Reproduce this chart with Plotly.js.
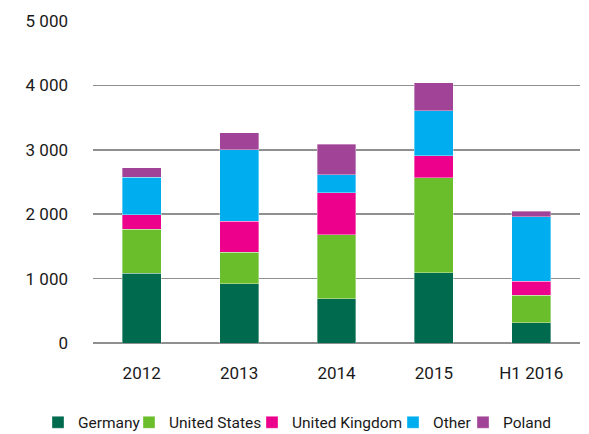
<!DOCTYPE html>
<html>
<head>
<meta charset="utf-8">
<script src="https://cdn.plot.ly/plotly-3.0.1.min.js"></script>
<style>html,body{margin:0;padding:0;background:#fff;}#chart{width:589px;height:434px;}</style>
</head>
<body>
<div id="chart"></div>
<script>
const categories = ["2012", "2013", "2014", "2015", "H1 2016"];
const germany = [1085, 919, 687, 1090, 315];
const unitedStates = [682, 487, 993, 1473, 425];
const unitedKingdom = [228, 481, 656, 347, 217];
const other = [579, 1110, 279, 698, 1001];
const poland = [144, 270, 475, 434, 89];
const seriesNames = ["Germany", "United States", "United Kingdom", "Other", "Poland"];
const yTicks = [0, 1000, 2000, 3000, 4000, 5000];
const yTickLabels = ["0", "1 000", "2 000", "3 000", "4 000", "5 000"];

const FONT = "Roboto, 'Liberation Sans', sans-serif";
const colors = ["#006A4E", "#6ABD2B", "#EC008C", "#00AEEF", "#A14396"];
const values = [germany, unitedStates, unitedKingdom, other, poland];
// left edge (px) of each legend entry box, so the entries sit where the reference shows them
const legendLeftPx = [38, 129, 252, 393, 463];

const data = seriesNames.map((name, i) => ({
  type: "bar",
  name: name,
  x: categories,
  y: values[i],
  legend: i === 0 ? "legend" : "legend" + (i + 1),
  marker: {color: colors[i], line: {color: "rgba(255,255,255,0.6)", width: 0.6}},
  hoverinfo: "x+y+name"
}));

const layout = {
  width: 589, height: 434,
  margin: {l: 93, r: 9, t: 21, b: 91},
  barmode: "stack",
  bargap: 0.6,
  paper_bgcolor: "#fff",
  plot_bgcolor: "#fff",
  font: {family: FONT, size: 17, color: "#1a1a1a"},
  xaxis: {
    type: "category", automargin: false,
    showgrid: false, zeroline: false, showline: false,
    ticks: "", ticklabelstandoff: 18,
    tickfont: {family: FONT, size: 17, color: "#1a1a1a"}
  },
  yaxis: {
    range: [0, 5000], automargin: false,
    tickvals: yTicks, ticktext: yTickLabels,
    showgrid: true, gridcolor: "#8f8f8f", gridwidth: 1.6,
    zeroline: true, zerolinecolor: "#8f8f8f", zerolinewidth: 1.6,
    showline: false, ticks: "", ticklabelstandoff: 24,
    tickfont: {family: FONT, size: 17, color: "#1a1a1a"}
  },
  showlegend: true
};
legendLeftPx.forEach((px, i) => {
  const key = i === 0 ? "legend" : "legend" + (i + 1);
  layout[key] = {
    orientation: "h",
    xref: "container", yref: "container",
    x: px / 589, xanchor: "left",
    y: 0.026, yanchor: "middle",
    bgcolor: "rgba(0,0,0,0)",
    font: {family: FONT, size: 15.5, color: "#1a1a1a"},
    itemwidth: 30
  };
});

Plotly.newPlot("chart", data, layout, {displayModeBar: false, staticPlot: true});
</script>
</body>
</html>
